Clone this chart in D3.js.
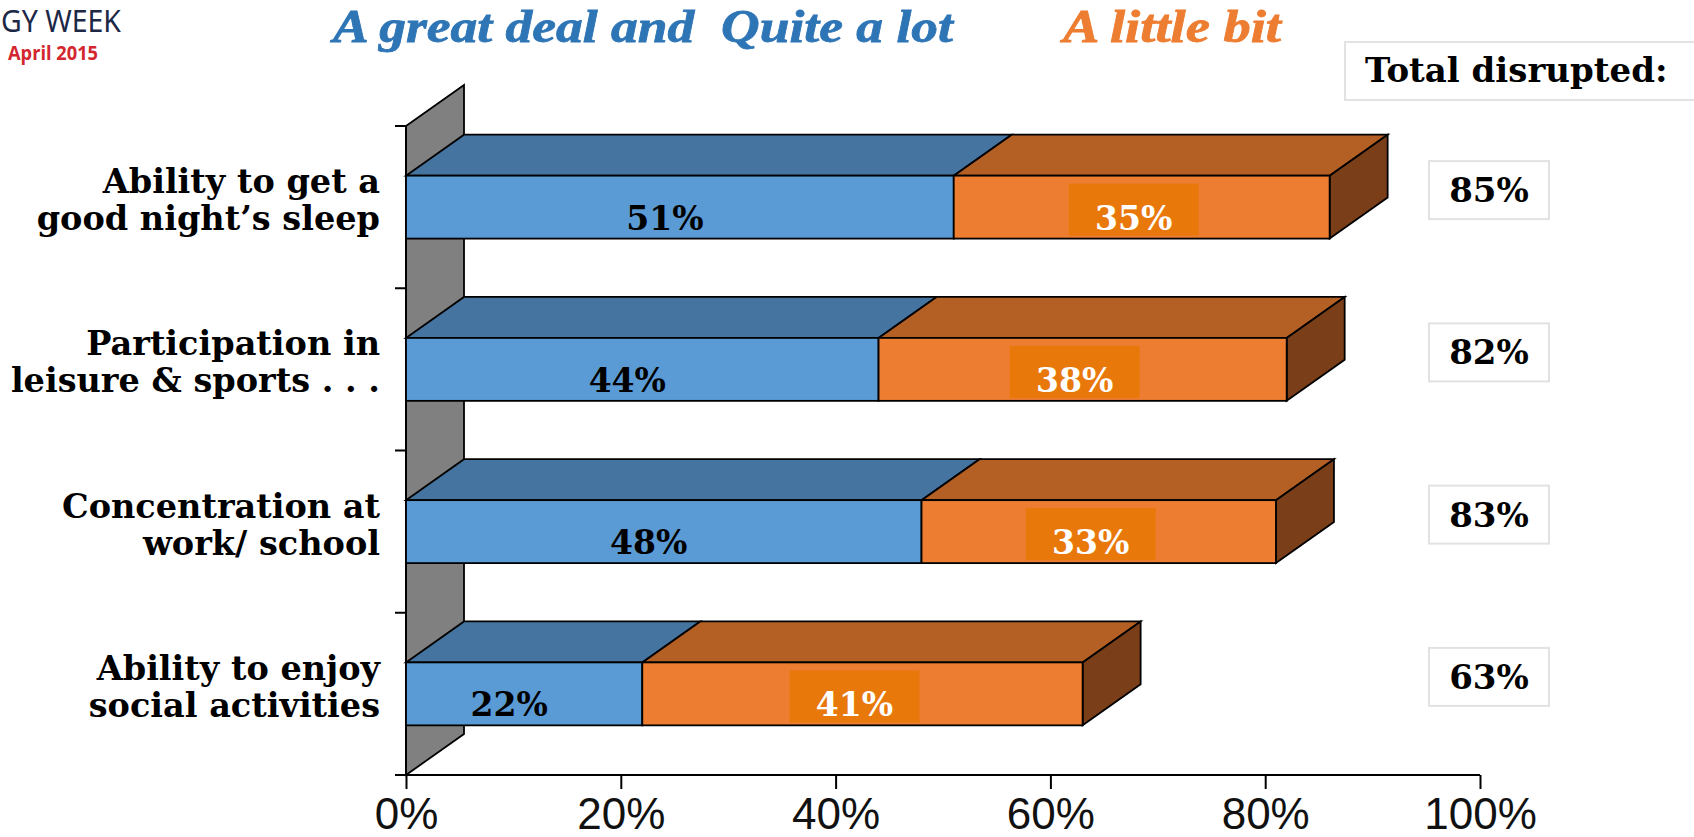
<!DOCTYPE html>
<html>
<head>
<meta charset="utf-8">
<script src="https://cdn.jsdelivr.net/npm/d3@7"></script>
<style>
  body { margin: 0; background: #fff; }
  svg { display: block; }
</style>
</head>
<body>
<div id="chart"></div>
<script>
var categories = [
  ["Ability to get a", "good night\u2019s sleep"],
  ["Participation in", "leisure & sports . . ."],
  ["Concentration at", "work/ school"],
  ["Ability to enjoy", "social activities"]
];
var greatDeal = [51, 44, 48, 22];
var littleBit = [35, 38, 33, 41];
var totals = [85, 82, 83, 63];
var xTicks = [0, 20, 40, 60, 80, 100];

var W = 1694, H = 837;
var depth = { dx: 58, dy: -41 };

var svg = d3.select("#chart")
  .append("svg")
  .attr("width", W)
  .attr("height", H);

var xScale = d3.scaleLinear().domain([0, 100]).range([406, 1480]);
var yScale = d3.scaleBand()
  .domain(d3.range(categories.length))
  .range([126, 775])
  .paddingInner(0.612)
  .paddingOuter(0.306);

// logo bits, top left
svg.append("text")
  .attr("x", 1).attr("y", 32)
  .attr("textLength", 120).attr("lengthAdjust", "spacingAndGlyphs")
  .style("font-family", "'Noto Sans', sans-serif")
  .style("font-size", "30px")
  .style("fill", "#1c2846")
  .text("GY WEEK");
svg.append("text")
  .attr("x", 8).attr("y", 60)
  .attr("textLength", 90).attr("lengthAdjust", "spacingAndGlyphs")
  .style("font-family", "'Open Sans', sans-serif")
  .style("font-weight", "bold")
  .style("font-size", "19px")
  .style("fill", "#d3262e")
  .text("April 2015");

// legend titles
svg.append("text")
  .attr("x", 333).attr("y", 42)
  .attr("textLength", 620).attr("lengthAdjust", "spacingAndGlyphs")
  .attr("xml:space", "preserve")
  .style("white-space", "pre")
  .style("font-family", "'Liberation Serif', serif")
  .style("font-weight", "bold").style("font-style", "italic")
  .style("font-size", "46px")
  .style("fill", "#2e75b6")
  .style("stroke", "#2e75b6").style("stroke-width", 0.8)
  .text("A great deal and  Quite a lot");
svg.append("text")
  .attr("x", 1063).attr("y", 42)
  .attr("textLength", 218).attr("lengthAdjust", "spacingAndGlyphs")
  .style("font-family", "'Liberation Serif', serif")
  .style("font-weight", "bold").style("font-style", "italic")
  .style("font-size", "46px")
  .style("fill", "#ed7d31")
  .style("stroke", "#ed7d31").style("stroke-width", 0.8)
  .text("A little bit");

// total disrupted header
svg.append("rect")
  .attr("x", 1345).attr("y", 42).attr("width", 360).attr("height", 58)
  .attr("fill", "#fff").attr("stroke", "#e2e2e2").attr("stroke-width", 2);
svg.append("text")
  .attr("x", 1365).attr("y", 82)
  .style("font-family", "'DejaVu Serif', serif")
  .style("font-weight", "bold")
  .style("font-size", "34px")
  .style("fill", "#000")
  .text("Total disrupted:");

// back wall
var wallTop = yScale.range()[0], wallBot = yScale.range()[1], x0 = xScale(0);
svg.append("path")
  .attr("d", "M" + x0 + "," + wallTop +
    "L" + (x0 + depth.dx) + "," + (wallTop + depth.dy) +
    "L" + (x0 + depth.dx) + "," + (wallBot + depth.dy) +
    "L" + x0 + "," + wallBot + "Z")
  .attr("fill", "#808080")
  .attr("stroke", "#000")
  .attr("stroke-width", 1.8);

// y axis line + ticks at band edges
svg.append("line")
  .attr("x1", x0).attr("x2", x0).attr("y1", wallTop).attr("y2", wallBot)
  .attr("stroke", "#000").attr("stroke-width", 2);
svg.append("g").selectAll("line")
  .data(d3.range(categories.length + 1))
  .enter().append("line")
  .attr("x1", x0 - 11).attr("x2", x0)
  .attr("y1", function (i) { return wallTop + i * yScale.step(); })
  .attr("y2", function (i) { return wallTop + i * yScale.step(); })
  .attr("stroke", "#000").attr("stroke-width", 2);

// x axis
var x_axis = d3.axisBottom(xScale)
  .tickValues(xTicks)
  .tickFormat(function (d) { return d + "%"; })
  .tickSize(14)
  .tickSizeOuter(0)
  .tickPadding(9);
var xg = svg.append("g")
  .attr("transform", "translate(0," + wallBot + ")")
  .call(x_axis);
xg.select(".domain").attr("stroke", "#000").attr("stroke-width", 2)
  .attr("d", "M" + (x0 - 11) + ",0H" + xScale(100));
xg.selectAll(".tick line").attr("stroke", "#000").attr("stroke-width", 2);
xg.selectAll(".tick text")
  .style("font-family", "'Liberation Sans', Arial, sans-serif")
  .style("font-size", "44px")
  .style("fill", "#111");

function box(xa, xb, yt) {
  return "M" + xa + "," + yt +
    "L" + (xa + depth.dx) + "," + (yt + depth.dy) +
    "L" + (xb + depth.dx) + "," + (yt + depth.dy) +
    "L" + xb + "," + yt + "Z";
}

var bars = svg.append("g").selectAll("g")
  .data(categories)
  .enter().append("g");

bars.each(function (c, i) {
  var g = d3.select(this);
  var yt = yScale(i), bh = yScale.bandwidth(), yb = yt + bh;
  var xa = xScale(0), xm = xScale(greatDeal[i]), xe = xScale(greatDeal[i] + littleBit[i]);
  var mid = yt + bh / 2;

  // top faces
  g.append("path").attr("d", box(xa, xm, yt))
    .attr("fill", "#44749f").attr("stroke", "#000").attr("stroke-width", 1.8);
  g.append("path").attr("d", box(xm, xe, yt))
    .attr("fill", "#b45f24").attr("stroke", "#000").attr("stroke-width", 1.8);
  // side
  g.append("path")
    .attr("d", "M" + xe + "," + yt +
      "L" + (xe + depth.dx) + "," + (yt + depth.dy) +
      "L" + (xe + depth.dx) + "," + (yb + depth.dy) +
      "L" + xe + "," + yb + "Z")
    .attr("fill", "#7a3e19").attr("stroke", "#000").attr("stroke-width", 1.8);
  // fronts
  g.append("rect").attr("x", xa).attr("y", yt).attr("width", xm - xa).attr("height", bh)
    .attr("fill", "#5b9bd5").attr("stroke", "#000").attr("stroke-width", 1.8);
  g.append("rect").attr("x", xm).attr("y", yt).attr("width", xe - xm).attr("height", bh)
    .attr("fill", "#ed7d31").attr("stroke", "#000").attr("stroke-width", 1.8);

  // value labels
  g.append("text")
    .attr("x", (xa + xm) / 2 - 15).attr("y", yt + 54)
    .attr("text-anchor", "middle")
    .style("font-family", "'DejaVu Serif', serif")
    .style("font-weight", "bold").style("font-size", "33px")
    .style("fill", "#000")
    .text(greatDeal[i] + "%");
  var oc = (xm + xe) / 2 - 8;
  g.append("rect")
    .attr("x", oc - 65).attr("y", yt + 8).attr("width", 130).attr("height", 52)
    .attr("fill", "#e9780b");
  g.append("text")
    .attr("x", oc).attr("y", yt + 54)
    .attr("text-anchor", "middle")
    .style("font-family", "'DejaVu Serif', serif")
    .style("font-weight", "bold").style("font-size", "33px")
    .style("fill", "#fff")
    .text(littleBit[i] + "%");

  // category label
  var lab = g.append("text")
    .attr("text-anchor", "end")
    .style("font-family", "'DejaVu Serif', serif")
    .style("font-weight", "bold").style("font-size", "33.5px")
    .style("fill", "#000");
  lab.append("tspan").attr("x", 380).attr("y", mid - 14).text(c[0]);
  lab.append("tspan").attr("x", 380).attr("y", mid + 23).text(c[1]);

  // total box
  var bc = mid - 17;
  g.append("rect")
    .attr("x", 1429).attr("y", bc - 29).attr("width", 120).attr("height", 58)
    .attr("fill", "#fff").attr("stroke", "#e2e2e2").attr("stroke-width", 2);
  g.append("text")
    .attr("x", 1489).attr("y", bc + 12)
    .attr("text-anchor", "middle")
    .style("font-family", "'DejaVu Serif', serif")
    .style("font-weight", "bold").style("font-size", "34px")
    .style("fill", "#000")
    .text(totals[i] + "%");
});
</script>
</body>
</html>
